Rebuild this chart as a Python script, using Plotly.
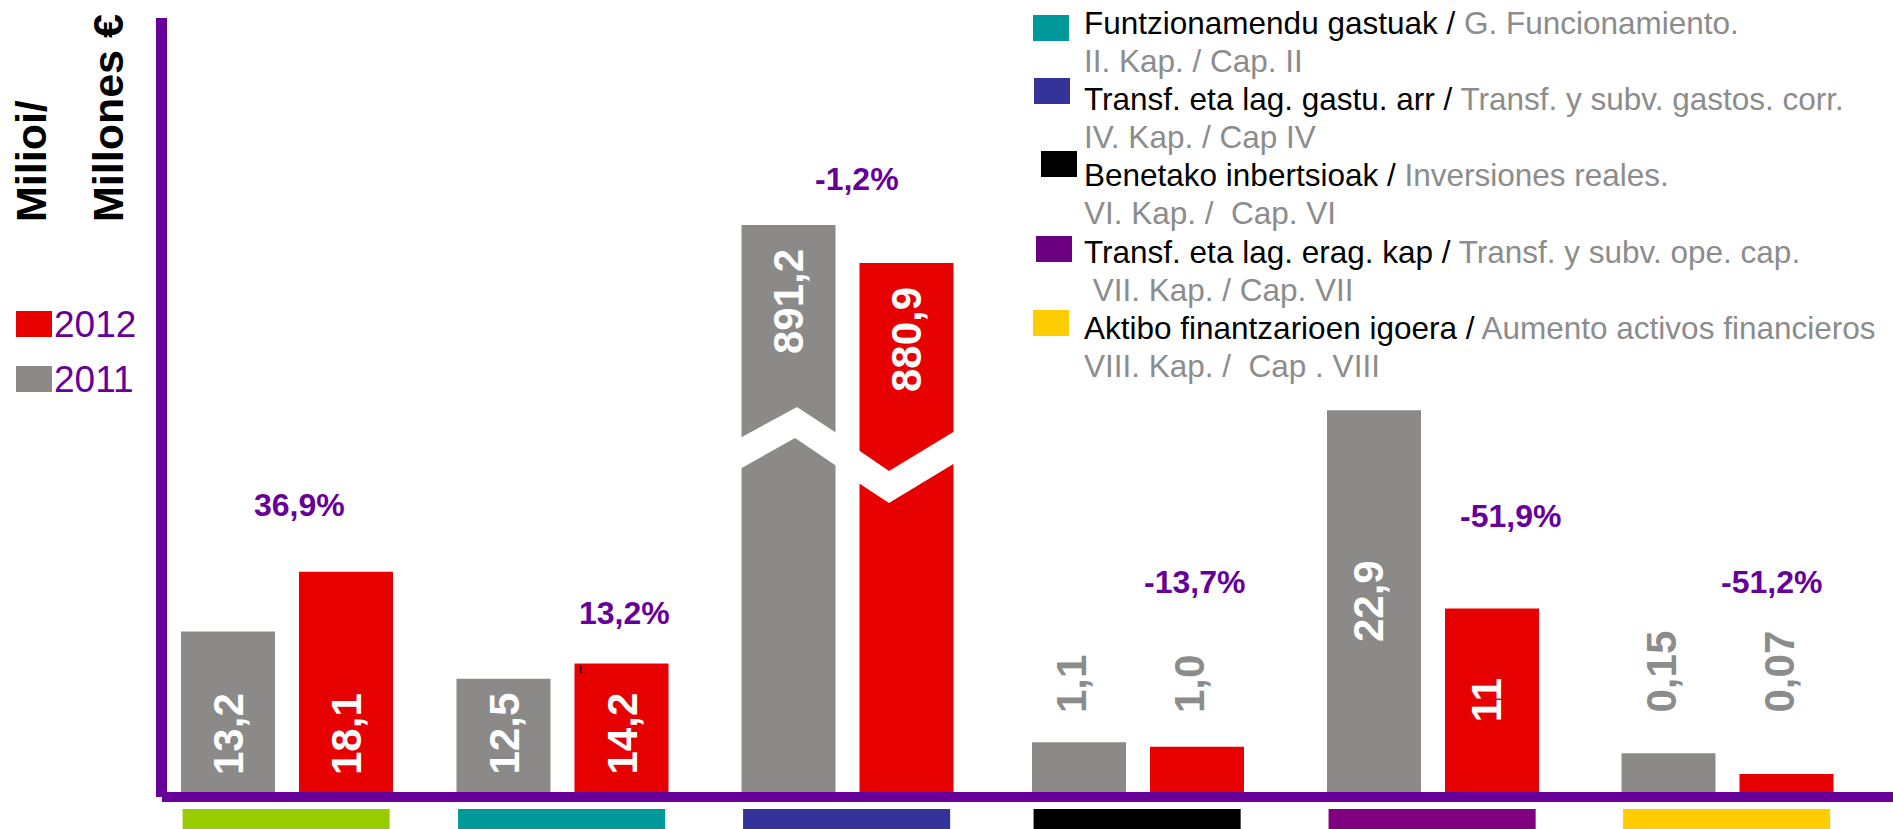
import plotly.graph_objects as go

# ---------------- data ----------------
years = ["2011", "2012"]
groups = ["G1", "G2", "G3", "G4", "G5", "G6"]
values_2011 = [13.2, 12.5, 891.2, 1.1, 22.9, 0.15]
values_2012 = [18.1, 14.2, 880.9, 1.0, 11.0, 0.07]
text_2011 = ["13,2", "12,5", "891,2", "1,1", "22,9", "0,15"]
text_2012 = ["18,1", "14,2", "880,9", "1,0", "11", "0,07"]
changes = ["36,9%", "13,2%", "-1,2%", "-13,7%", "-51,9%", "-51,2%"]
group_colors = ["#99CC00", "#009999", "#333399", "#000000", "#800080", "#FFCC00"]

legend_basque = ["Funtzionamendu gastuak / ", "Transf. eta lag. gastu. arr / ",
                 "Benetako inbertsioak / ", "Transf. eta lag. erag. kap / ",
                 "Aktibo finantzarioen igoera / "]
legend_spanish = ["G. Funcionamiento.", "Transf. y subv. gastos. corr.",
                  "Inversiones reales.", "Transf. y subv. ope. cap.",
                  "Aumento activos financieros"]
legend_chapters = ["II. Kap. / Cap. II", "IV. Kap. / Cap IV",
                   "VI. Kap. /\u00a0\u00a0Cap. VI", "\u00a0VII. Kap. / Cap. VII",
                   "VIII. Kap. /\u00a0\u00a0Cap . VIII"]
legend_colors = ["#009999", "#333399", "#000000", "#6A0080", "#FFCC00"]

year_legend = ["2012", "2011"]
axis_title = ["Milioi/", "Millones €"]

# ---------------- style / layout ----------------
W, H = 1893, 829
BASE_PX = 792
SLOT = 118
GRAY = "#8B8A88"
RED = "#E60000"
PURPLE = "#660099"
LGRAY = "#8C8C8C"
FONT = "Liberation Sans, Arial, sans-serif"

group_center_px = [287, 562.5, 847.5, 1138, 1433, 1727.5]
y_ranges = [[0, 65.1], [0, 87.5], [737.5, 952.2], [0, 17.5], [0, 47.5], [0, 3.06]]
label_mode = ["base", "base", "top", "above", "mid", "above"]
change_pos_px = [(299, 505), (624, 613), (857, 179), (1194, 582), (1510, 516), (1771, 582)]


def px(x):
    return x / W


def py(y):
    return 1 - y / H


fig = go.Figure()
layout = {}
annotations = []
shapes = []

y0 = (H - BASE_PX) / H
for i in range(len(groups)):
    n = "" if i == 0 else str(i + 1)
    xa, ya = "x" + n, "y" + n
    fig.add_trace(go.Bar(
        x=years, y=[values_2011[i], values_2012[i]], name=groups[i],
        marker=dict(color=[GRAY, RED], line=dict(width=0)),
        xaxis=xa, yaxis=ya, showlegend=False, hoverinfo="y"))
    c = group_center_px[i]
    layout["xaxis" + n] = dict(domain=[px(c - SLOT), px(c + SLOT)], type="category",
                               range=[-0.5, 1.5], visible=False, anchor=ya)
    layout["yaxis" + n] = dict(domain=[y0, 1], range=y_ranges[i], visible=False, anchor=xa)

    # value labels (x given as category index)
    for j, (val, txt) in enumerate([(values_2011[i], text_2011[i]), (values_2012[i], text_2012[i])]):
        mode = label_mode[i]
        a = dict(x=j, xref=xa, text=txt, showarrow=False, textangle=-90,
                 font=dict(family=FONT, size=42, color="white", weight="bold"))
        if mode == "base":
            a.update(y=0, yref=ya, yanchor="bottom", yshift=15)
        elif mode == "top":
            a.update(y=val, yref=ya, yanchor="top", yshift=-22)
        elif mode == "mid":
            a.update(y=val / 2, yref=ya, yanchor="middle", xshift=-6)
        else:
            a.update(y=(BASE_PX - 715) / BASE_PX, yref=ya + " domain", yanchor="bottom",
                     xshift=-8, font=dict(family=FONT, size=42, color=LGRAY, weight="bold"))
        annotations.append(a)

    # change percentages
    cx, cy = change_pos_px[i]
    annotations.append(dict(x=px(cx), y=py(cy), xref="paper", yref="paper", text=changes[i],
                            showarrow=False, xanchor="center", yanchor="middle",
                            font=dict(family=FONT, size=32, color=PURPLE, weight="bold")))

    # category color strip under the axis
    shapes.append(dict(type="rect", xref=xa, yref="paper", x0=-0.385, x1=1.37,
                       y0=0, y1=20 / H, fillcolor=group_colors[i], line=dict(width=0)))

# axis lines
shapes.append(dict(type="rect", xref="paper", yref="paper", x0=px(156), x1=px(167),
                   y0=py(797), y1=py(18), fillcolor=PURPLE, line=dict(width=0)))
shapes.append(dict(type="rect", xref="paper", yref="paper", x0=px(162), x1=1,
                   y0=py(802), y1=py(792), fillcolor=PURPLE, line=dict(width=0)))


# axis break chevrons on the large bars
def path(pts):
    return "M " + " L ".join(f"{px(x):.5f},{py(y):.5f}" for x, y in pts) + " Z"


shapes.append(dict(type="path", xref="paper", yref="paper", fillcolor="white", line=dict(width=0),
                   path=path([(740, 438), (797, 407), (838, 434), (838, 467), (795, 438), (740, 469)])))
shapes.append(dict(type="path", xref="paper", yref="paper", fillcolor="white", line=dict(width=0),
                   path=path([(857, 449), (889, 471), (955, 431), (955, 463), (889, 503), (857, 482)])))

# year legend (left)
for k, (yr, col, top) in enumerate(zip(year_legend, [RED, GRAY], [311, 366])):
    shapes.append(dict(type="rect", xref="paper", yref="paper", x0=px(16), x1=px(52),
                       y0=py(top + 26), y1=py(top), fillcolor=col, line=dict(width=0)))
    annotations.append(dict(x=px(52), y=py(top + 14), xref="paper", yref="paper", text=yr,
                            showarrow=False, xanchor="left", yanchor="middle",
                            font=dict(family=FONT, size=37, color=PURPLE)))

# y-axis title
for t, xc in zip(axis_title, [31, 108]):
    annotations.append(dict(x=px(xc), y=py(224), xref="paper", yref="paper", text=t,
                            showarrow=False, textangle=-90, xanchor="center", yanchor="bottom",
                            font=dict(family=FONT, size=43, color="black", weight="bold")))

# chapter legend (right)
sq_pos = [(1033, 15), (1034, 78), (1041, 151), (1036, 236), (1033, 310)]
for k in range(len(legend_basque)):
    sx, sy = sq_pos[k]
    shapes.append(dict(type="rect", xref="paper", yref="paper", x0=px(sx), x1=px(sx + 36),
                       y0=py(sy + 26), y1=py(sy), fillcolor=legend_colors[k], line=dict(width=0)))
    l1 = 21 + 38.1 * (2 * k)
    l2 = 21 + 38.1 * (2 * k + 1)
    annotations.append(dict(x=px(1082), y=py(l1 + 2), xref="paper", yref="paper",
                            text=legend_basque[k] + f"<span style='color:{LGRAY}'>" + legend_spanish[k] + "</span>",
                            showarrow=False, xanchor="left", yanchor="middle",
                            font=dict(family=FONT, size=31.5, color="black")))
    annotations.append(dict(x=px(1082), y=py(l2 + 2), xref="paper", yref="paper",
                            text=legend_chapters[k], showarrow=False, xanchor="left", yanchor="middle",
                            font=dict(family=FONT, size=31.5, color=LGRAY)))

# stray small mark on the 2012 bar of group 2
annotations.append(dict(x=px(580), y=py(669), xref="paper", yref="paper", text="t",
                        showarrow=False, xanchor="center", yanchor="middle",
                        font=dict(family=FONT, size=11, color="black")))

fig.update_layout(**layout)
fig.update_layout(width=W, height=H, margin=dict(l=0, r=0, t=0, b=0),
                  paper_bgcolor="white", plot_bgcolor="white",
                  bargap=24 / SLOT, showlegend=False,
                  annotations=annotations, shapes=shapes)

fig.write_html("out.html", config={"displayModeBar": False},
               post_script="document.body.style.margin='0';document.body.style.overflow='hidden';")
